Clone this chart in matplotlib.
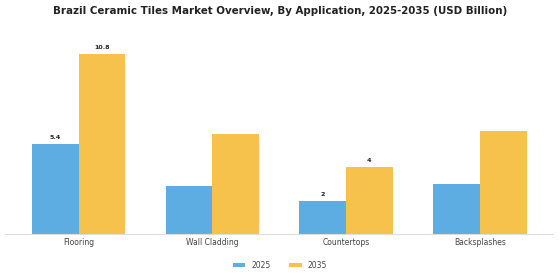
import matplotlib.pyplot as plt
import numpy as np

# Chart data
categories = ["Flooring", "Wall Cladding", "Countertops", "Backsplashes"]
values_2025 = [5.4, 2.9, 2.0, 3.0]
values_2035 = [10.8, 6.0, 4.0, 6.2]
# only some bars carry a value label in the original
labels_2025 = ["5.4", "", "2", ""]
labels_2035 = ["10.8", "", "4", ""]

blue = "#5DADE2"
yellow = "#F7C24C"

fig = plt.figure(figsize=(5.6, 2.8), dpi=100)
ax = fig.add_axes([0.009, 0.164, 0.979, 0.714])

x = np.arange(len(categories))
width = 0.35

bars_a = ax.bar(x - width / 2, values_2025, width, color=blue, label="2025")
bars_b = ax.bar(x + width / 2, values_2035, width, color=yellow, label="2035")

# value labels
for bar, txt in zip(bars_a, labels_2025):
    if txt:
        ax.text(bar.get_x() + bar.get_width() / 2, bar.get_height() + 0.25, txt,
                ha="center", va="bottom", fontsize=4.6, fontweight="bold", color="#222222")
for bar, txt in zip(bars_b, labels_2035):
    if txt:
        ax.text(bar.get_x() + bar.get_width() / 2, bar.get_height() + 0.25, txt,
                ha="center", va="bottom", fontsize=4.6, fontweight="bold", color="#222222")

ax.set_xlim(-0.55, 3.55)
ax.set_ylim(0, 12)
ax.set_xticks(x)
ax.set_xticklabels(categories, fontsize=5.5, color="#444444")
ax.set_yticks([])
ax.tick_params(axis="x", length=0, pad=2.5)

for side in ["top", "right", "left"]:
    ax.spines[side].set_visible(False)
ax.spines["bottom"].set_color("#dddddd")
ax.spines["bottom"].set_linewidth(0.8)

fig.suptitle("Brazil Ceramic Tiles Market Overview, By Application, 2025-2035 (USD Billion)",
             fontsize=7.4, fontweight="bold", color="#222222", y=0.978)

fig.legend(loc="lower center", bbox_to_anchor=(0.5, 0.012), ncol=2, frameon=False,
           fontsize=5.5, handlelength=1.6, handleheight=0.5, columnspacing=2.5,
           labelcolor="#444444")

fig.savefig("out.png", dpi=100)
